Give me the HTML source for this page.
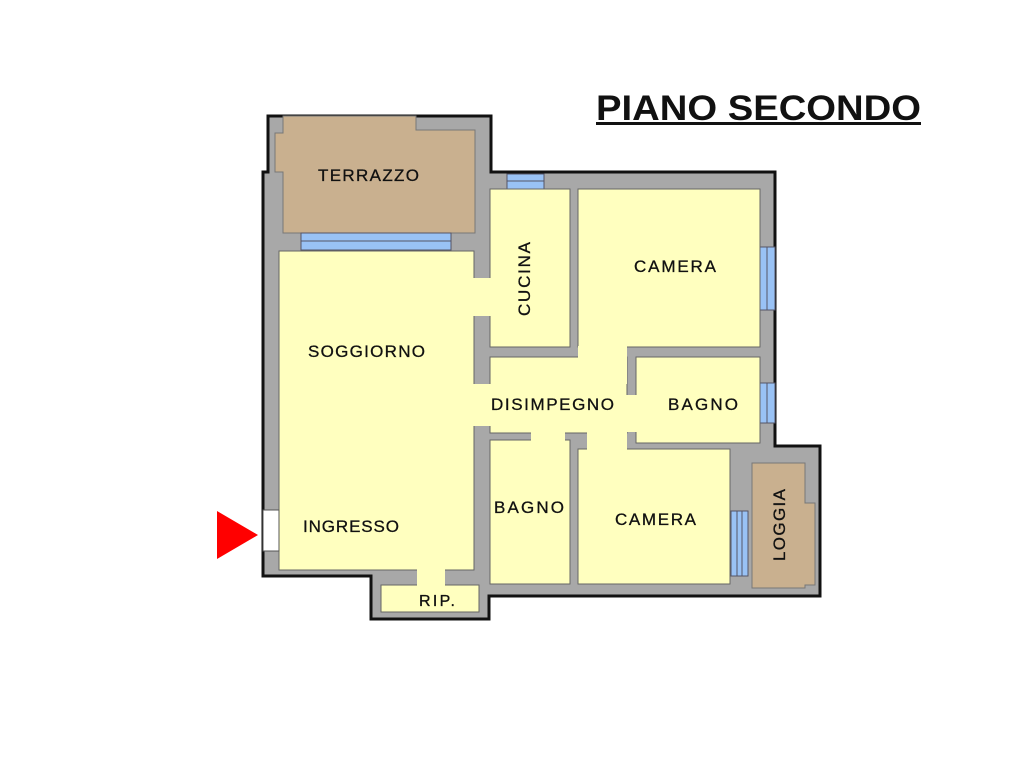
<!DOCTYPE html>
<html><head><meta charset="utf-8"><style>
html,body{margin:0;padding:0;background:#fff;}
svg{display:block;}
text{font-family:"Liberation Sans",sans-serif;fill:#111;stroke:#111;stroke-width:0.3;}
</style></head><body>
<svg width="1024" height="768" viewBox="0 0 1024 768" xmlns="http://www.w3.org/2000/svg">
<text x="596" y="120" font-size="35" font-weight="bold" textLength="325" lengthAdjust="spacingAndGlyphs" style="stroke:none">PIANO SECONDO</text>
<rect x="596" y="122" width="325" height="3" fill="#111"/>
<polygon points="268,116 491,116 491,172 775,172 775,446 820,446 820,596 489,596 489,619 371,619 371,576 263,576 263,172 268,172" fill="#a8a8a8" stroke="#111" stroke-width="3"/>
<polygon points="283,116 416,116 416,130 475,130 475,233 283,233 283,172 275,172 275,133 283,133" fill="#c9b08f" stroke="#777" stroke-width="1"/>
<g fill="#99c2f5" stroke="#556" stroke-width="1">
<rect x="301" y="233" width="150" height="17"/><line x1="301" y1="241" x2="451" y2="241"/>
<rect x="507" y="174" width="37" height="15"/><line x1="507" y1="181" x2="544" y2="181"/>
<rect x="760" y="247" width="15" height="63"/><line x1="767" y1="247" x2="767" y2="310"/>
<rect x="760" y="383" width="15" height="40"/><line x1="767" y1="383" x2="767" y2="423"/>
<rect x="731" y="511" width="17" height="65"/><line x1="737" y1="511" x2="737" y2="576"/><line x1="742" y1="511" x2="742" y2="576"/>
</g>
<g fill="#ffffbf" stroke="#666" stroke-width="1">
<rect x="279" y="251" width="195" height="319"/>
<rect x="490" y="189" width="80" height="158"/>
<rect x="578" y="189" width="182" height="158"/>
<rect x="490" y="357" width="137" height="76"/>
<rect x="636" y="357" width="124" height="86"/>
<rect x="490" y="440" width="80" height="144"/>
<rect x="578" y="449" width="152" height="135"/>
<rect x="381" y="585" width="98" height="27"/>
</g>
<g fill="#ffffbf">
<rect x="473" y="278" width="18" height="38"/>
<rect x="473" y="384" width="18" height="42"/>
<rect x="578" y="346" width="49" height="27"/>
<rect x="587" y="372" width="40" height="12"/>
<rect x="626" y="395" width="11" height="37"/>
<rect x="531" y="432" width="34" height="9"/>
<rect x="587" y="432" width="40" height="18"/>
<rect x="417" y="569" width="28" height="17"/>
</g>
<polygon points="752,463 805,463 805,503 815,503 815,585 805,585 805,588 752,588" fill="#c9b08f" stroke="#777" stroke-width="1"/>
<rect x="263" y="510" width="16" height="41" fill="#fff" stroke="#555" stroke-width="1"/>
<polygon points="217,511 217,559 258,535" fill="#f00"/>
<g font-size="17" lengthAdjust="spacingAndGlyphs">
<text x="318" y="181" textLength="101">TERRAZZO</text>
<text x="308" y="357" textLength="117">SOGGIORNO</text>
<text x="303" y="532" textLength="96">INGRESSO</text>
<text x="634" y="272" textLength="82">CAMERA</text>
<text x="491" y="410" textLength="123">DISIMPEGNO</text>
<text x="668" y="410" textLength="70">BAGNO</text>
<text x="494" y="513" textLength="70">BAGNO</text>
<text x="615" y="525" textLength="81">CAMERA</text>
<text x="419" y="606" font-size="16" textLength="36">RIP.</text>
<text transform="translate(530,316) rotate(-90)" textLength="74">CUCINA</text>
<text transform="translate(785,561) rotate(-90)" textLength="72">LOGGIA</text>
</g>
</svg>
</body></html>
